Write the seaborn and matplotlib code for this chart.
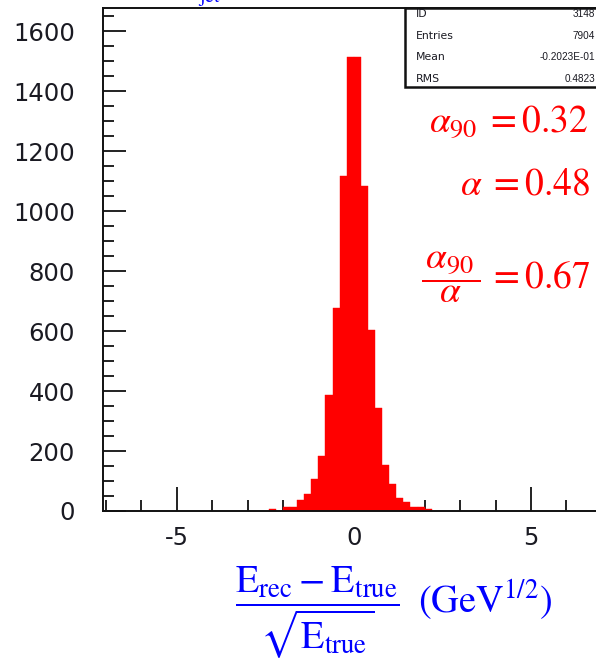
import numpy as np
import pandas as pd
import matplotlib
matplotlib.use("Agg")
import matplotlib.pyplot as plt
import seaborn as sns
from matplotlib.ticker import MultipleLocator
from matplotlib.patches import Rectangle

# ---------------- data ----------------
bin_edges = [-2.4, -2.2, -2.0, -1.8, -1.6, -1.4, -1.2, -1.0, -0.8, -0.6, -0.4, -0.2,
             0.0, 0.2, 0.4, 0.6, 0.8, 1.0, 1.2, 1.4, 1.6, 1.8, 2.0, 2.2]
counts = [6, 0, 12, 14, 37, 56, 108, 183, 388, 676, 1118, 1515,
          1515, 1083, 603, 345, 153, 91, 44, 31, 13, 12, 6]
stats_labels = ["ID", "Entries", "Mean", "RMS"]
stats_values = ["3148", "7904", "-0.2023E-01", "0.4823"]
x_ticks_major = [-5, 0, 5]
y_ticks_major = [0, 200, 400, 600, 800, 1000, 1200, 1400, 1600]

centers = [(a + b) / 2 for a, b in zip(bin_edges[:-1], bin_edges[1:])]
df = pd.DataFrame({"x": centers, "w": counts})

# ---------------- style ----------------
sns.set_style("ticks")
plt.rcParams['font.family'] = ['DejaVu Sans']
plt.rcParams['mathtext.fontset'] = 'stix'
plt.rcParams['axes.unicode_minus'] = False

W, H = 596, 664
fig = plt.figure(figsize=(W / 100, H / 100), dpi=100)

sx = 35.43
xmin, xmax = -7.07, 7.0
left_px, bottom_px, top_px = 103.3, 511, 8
ax = fig.add_axes([left_px / W, (H - bottom_px) / H,
                   (xmax - xmin) * sx / W, (bottom_px - top_px) / H])

sns.histplot(data=df, x="x", weights="w", bins=bin_edges, color="#ff0000",
             alpha=1, edgecolor="#ff0000", linewidth=0.3, ax=ax)

ax.set_xlim(xmin, xmax)
ax.set_ylim(0, 1677)
ax.set_xlabel("")
ax.set_ylabel("")
ax.set_xticks(x_ticks_major)
ax.set_yticks(y_ticks_major)
ax.xaxis.set_minor_locator(MultipleLocator(1))
ax.yaxis.set_minor_locator(MultipleLocator(50))

tick_col = "#111111"
ax.tick_params(which='both', direction='in', top=False, right=False,
               width=1.3, color=tick_col, labelcolor="#1a1a22")
ax.tick_params(axis='x', which='major', length=17, pad=11.0, labelsize=17.5)
ax.tick_params(axis='x', which='minor', length=7.8)
ax.tick_params(axis='y', which='major', length=16.3, pad=20.5, labelsize=17.5)
ax.tick_params(axis='y', which='minor', length=8.2)
for s in ax.spines.values():
    s.set_linewidth(1.4)
    s.set_color(tick_col)

# ---------------- stats box ----------------
box_l, box_t, box_b = 405, 8, 87
fig.patches.append(Rectangle((box_l / W, 1 - box_b / H), (W + 10 - box_l) / W,
                             (box_b - box_t) / H, transform=fig.transFigure,
                             facecolor="white", edgecolor="#111111", lw=1.8,
                             zorder=5))
row_y = [14, 36, 57.5, 79]
for lab, val, yy in zip(stats_labels, stats_values, row_y):
    fig.text(416 / W, 1 - yy / H, lab, fontsize=7.8, va='center', ha='left',
             color="#1a1a22", zorder=6)
    fig.text(595 / W, 1 - yy / H, val, fontsize=7.2, va='center', ha='right',
             family=['Liberation Sans', 'DejaVu Sans'], color="#1a1a22",
             zorder=6)

# ---------------- annotations ----------------
red = "#ff0000"
fig.text(588 / W, 1 - 133 / H, r"$\alpha_{90}\;= 0.32$", color=red,
         fontsize=27, ha='right', va='baseline')
fig.text(590 / W, 1 - 194 / H, r"$\alpha\;= 0.48$", color=red,
         fontsize=27, ha='right', va='baseline')
fig.text(590 / W, 1 - 277.5 / H,
         r"$\dfrac{\,\alpha_{90}\,}{\alpha}\,= 0.67$",
         color=red, fontsize=27, ha='right', va='center')

# ---------------- x label ----------------
blue = "#0000ff"
fig.text(235 / W, 1 - 613 / H,
         r"$\dfrac{\mathrm{E}_{\mathrm{rec}} - \mathrm{E}_{\mathrm{true}}}"
         r"{\sqrt{\mathrm{E}_{\mathrm{true}}}}\ \:(\mathrm{GeV}^{1/2})$",
         color=blue, fontsize=27.5, ha='left', va='center')

# partially visible title at the top (cut off in the reference as well)
fig.text(198 / W, 1 - 1.5 / H, r"$\mathrm{jet}$", color=blue, fontsize=14,
         ha='left', va='baseline')

fig.savefig("out.png", dpi=100)
